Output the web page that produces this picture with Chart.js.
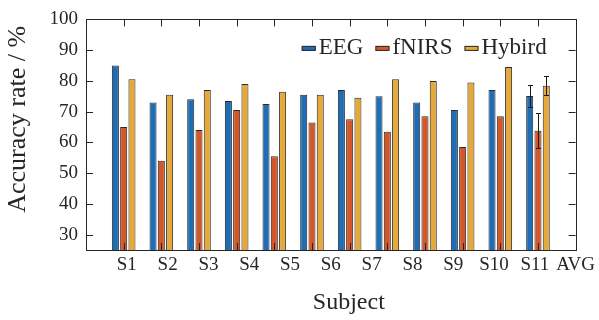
<!DOCTYPE html>
<html>
<head>
<meta charset="utf-8">
<script src="https://cdn.jsdelivr.net/npm/chart.js@4.4.1/dist/chart.umd.min.js"></script>
<style>
  html, body { margin: 0; padding: 0; background: #fff; }
</style>
</head>
<body>
<canvas id="myChart" width="599" height="320"></canvas>
<script>
// accuracy (%) per subject, last group is the average
var groups = ['S1', 'S2', 'S3', 'S4', 'S5', 'S6', 'S7', 'S8', 'S9', 'S10', 'S11', 'AVG'];
var tickLabels = ['', 'S1', 'S2', 'S3', 'S4', 'S5', 'S6', 'S7', 'S8', 'S9', 'S10', 'S11', 'AVG'];
var eeg    = [85, 73, 74, 73.5, 72.5, 75.5, 77, 75, 73, 70.5, 77, 75.1];
var fnirs  = [65, 54, 64, 70.5, 55.5, 66.5, 67.5, 63.5, 68.5, 58.5, 68.5, 63.8];
var hybird = [80.5, 75.5, 77, 79, 76.5, 75.5, 74.5, 80.5, 80, 79.5, 84.5, 78.4];
var eegErr    = [null, null, null, null, null, null, null, null, null, null, null, 3.7];
var fnirsErr  = [null, null, null, null, null, null, null, null, null, null, null, 5.6];
var hybirdErr = [null, null, null, null, null, null, null, null, null, null, null, 3.1];
var yTicks = [30, 40, 50, 60, 70, 80, 90, 100];

var family = "'Liberation Serif', 'Times New Roman', serif";
var ink = '#262626';
Chart.defaults.font.family = family;
Chart.defaults.color = ink;

function pts(arr) {
  return arr.map(function(v, i) { return {x: i + 1, y: v}; });
}

// box round the plot + inward ticks on all four sides
var frameTicks = {
  id: 'frameTicks',
  afterDatasetsDraw: function(chart) {
    var ctx = chart.ctx, a = chart.chartArea;
    var xs = chart.scales.x, ys = chart.scales.y;
    ctx.save();
    ctx.strokeStyle = ink;
    ctx.lineWidth = 1;
    ctx.beginPath();
    groups.forEach(function(g, i) {
      var px = Math.round(xs.getPixelForValue(i + 1)) + 0.5;
      ctx.moveTo(px, a.bottom); ctx.lineTo(px, a.bottom - 7);
      ctx.moveTo(px, a.top); ctx.lineTo(px, a.top + 7);
    });
    yTicks.forEach(function(v) {
      var py = Math.round(ys.getPixelForValue(v)) + 0.5;
      ctx.moveTo(a.left, py); ctx.lineTo(a.left + 7, py);
      ctx.moveTo(a.right, py); ctx.lineTo(a.right - 7, py);
    });
    ctx.stroke();
    ctx.strokeRect(Math.round(a.left) + 0.5, Math.round(a.top) + 0.5,
                   Math.round(a.right - a.left), Math.round(a.bottom - a.top));
    ctx.restore();
  }
};

// error bars (only the average has them)
var errBars = {
  id: 'errBars',
  afterDatasetsDraw: function(chart) {
    var ctx = chart.ctx, ys = chart.scales.y;
    ctx.save();
    ctx.strokeStyle = '#1a1a1a';
    ctx.lineWidth = 1;
    chart.data.datasets.forEach(function(ds, d) {
      var meta = chart.getDatasetMeta(d);
      ds.err.forEach(function(e, i) {
        if (e == null) return;
        var v = ds.data[i].y;
        var x = Math.round(meta.data[i].x) + 0.5;
        var y1 = Math.round(ys.getPixelForValue(v + e)) + 0.5;
        var y2 = Math.round(ys.getPixelForValue(v - e)) + 0.5;
        ctx.beginPath();
        ctx.moveTo(x, y1); ctx.lineTo(x, y2);
        ctx.moveTo(x - 2.5, y1); ctx.lineTo(x + 2.5, y1);
        ctx.moveTo(x - 2.5, y2); ctx.lineTo(x + 2.5, y2);
        ctx.stroke();
      });
    });
    ctx.restore();
  }
};

// legend inside the plot, top right, matlab style
var legendBox = {
  id: 'legendBox',
  afterDraw: function(chart) {
    var ctx = chart.ctx, a = chart.chartArea;
    var sets = chart.data.datasets;
    ctx.save();
    ctx.font = '23px ' + family;
    ctx.textBaseline = 'middle';
    ctx.textAlign = 'left';
    var widths = sets.map(function(d) { return 14 + 3 + ctx.measureText(d.label).width; });
    var total = widths.reduce(function(s, w) { return s + w; }, 0) + 12 * (sets.length - 1);
    var x = a.right - 29 - total;
    var y = a.top + 29;
    sets.forEach(function(d, i) {
      ctx.fillStyle = d.backgroundColor;
      ctx.fillRect(x, y - 2.5, 14, 5);
      ctx.strokeStyle = d.borderColor;
      ctx.lineWidth = 1;
      ctx.strokeRect(x + 0.5, y - 2, 13, 4);
      ctx.fillStyle = ink;
      ctx.fillText(d.label, x + 17, y);
      x += widths[i] + 12;
    });
    ctx.restore();
  }
};

new Chart(document.getElementById('myChart').getContext('2d'), {
  type: 'bar',
  data: {
    datasets: [
      {label: 'EEG', data: pts(eeg), err: eegErr, backgroundColor: '#1f6db4', borderColor: '#2b2b2b', borderWidth: 1},
      {label: 'fNIRS', data: pts(fnirs), err: fnirsErr, backgroundColor: '#d4572a', borderColor: '#2b2b2b', borderWidth: 1},
      {label: 'Hybird', data: pts(hybird), err: hybirdErr, backgroundColor: '#e5a83a', borderColor: '#2b2b2b', borderWidth: 1}
    ]
  },
  options: {
    responsive: false,
    animation: false,
    categoryPercentage: 0.66,
    barPercentage: 0.85,
    layout: {padding: {top: 18, right: 22, bottom: 0, left: 0}},
    plugins: {legend: {display: false}, tooltip: {enabled: false}},
    scales: {
      x: {
        type: 'linear', position: 'bottom', min: 0, max: groups.length + 1, offset: false,
        ticks: {display: false, stepSize: 1},
        grid: {display: false, drawTicks: false, offset: false},
        border: {display: false},
        afterFit: function(s) { s.height = 0; }
      },
      xl: {
        type: 'category', position: 'bottom', labels: tickLabels,
        min: 0, max: tickLabels.length - 1, offset: false,
        ticks: {font: {size: 19}, padding: 4, autoSkip: false, maxRotation: 0},
        grid: {display: false, drawTicks: false},
        border: {display: false},
        title: {display: true, text: '\u00a0\u00a0\u00a0\u00a0\u00a0\u00a0Subject', font: {size: 24}, padding: {top: 0, bottom: 3}},
        afterFit: function(s) { s.height = 70; }
      },
      y: {
        min: 25, max: 100,
        afterBuildTicks: function(s) { s.ticks = yTicks.map(function(v) { return {value: v}; }); },
        ticks: {font: {size: 19}, padding: 8},
        grid: {display: false, drawTicks: false},
        border: {display: false},
        title: {display: true, text: 'Accuracy rate / %\u00a0', align: 'end', font: {size: 26}, padding: {top: 3, bottom: 0}},
        afterFit: function(s) { s.width = 86; }
      }
    }
  },
  plugins: [frameTicks, errBars, legendBox]
});
</script>
</body>
</html>
